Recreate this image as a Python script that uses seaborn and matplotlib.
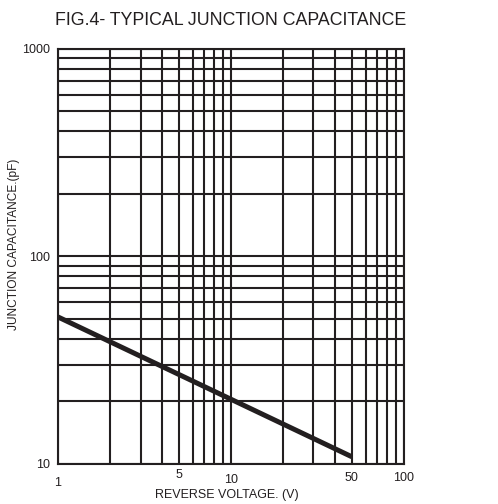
import matplotlib
matplotlib.use("Agg")
import matplotlib.pyplot as plt
import matplotlib.transforms as mtransforms
from matplotlib.ticker import LogLocator, NullFormatter
import seaborn as sns
import pandas as pd

# -----------------------------
# 0. Data
# -----------------------------
reverse_voltage = [1.0, 50.0]
junction_cap = [51.0, 10.8]

x_tick_values = [1, 5, 10, 50, 100]
x_tick_labels = ["1", "5", "10", "50", "100"]
y_tick_values = [10, 100, 1000]
y_tick_labels = ["10", "100", "1000"]

df = pd.DataFrame({"V": reverse_voltage, "C": junction_cap})

# -----------------------------
# 1. Style
# -----------------------------
sns.set_style("white")
plt.rcParams["font.family"] = ["Liberation Sans", "DejaVu Sans"]
ink = "#231f20"

fig = plt.figure(figsize=(4.98, 5.04), dpi=100)
ax = fig.add_axes([0.1165, 0.080, 0.6945, 0.8228])

ax.set_xscale("log")
ax.set_yscale("log")
ax.set_xlim(1, 100)
ax.set_ylim(10, 1000)

# grid at every major and minor decade step
ax.xaxis.set_minor_locator(LogLocator(base=10, subs=range(2, 10)))
ax.yaxis.set_minor_locator(LogLocator(base=10, subs=range(2, 10)))
ax.xaxis.set_minor_formatter(NullFormatter())
ax.yaxis.set_minor_formatter(NullFormatter())
ax.grid(True, which="both", color=ink, linewidth=1.5)
ax.set_axisbelow(True)

# -----------------------------
# 2. Curve
# -----------------------------
sns.lineplot(data=df, x="V", y="C", ax=ax, color=ink, linewidth=3.6,
             solid_capstyle="butt")

# -----------------------------
# 3. Axes text
# -----------------------------
ax.set_xticks(x_tick_values)
ax.set_xticklabels(x_tick_labels)
ax.set_yticks(y_tick_values)
ax.set_yticklabels(y_tick_labels)
ax.tick_params(axis="both", which="both", length=0, labelsize=9, colors=ink)
ax.tick_params(axis="x", pad=6)
ax.tick_params(axis="y", pad=5.8)

# the original drawing has its x labels at slightly uneven heights
offsets = {"1": -3.6, "5": 2.2, "10": -1.3, "50": 0.2, "100": 0.2}
for lbl in ax.get_xticklabels():
    dy = offsets.get(lbl.get_text(), 0)
    lbl.set_transform(lbl.get_transform() +
                      mtransforms.ScaledTranslation(0, dy / 72, fig.dpi_scale_trans))

for s in ax.spines.values():
    s.set_color(ink)
    s.set_linewidth(1.5)

ax.set_xlabel("REVERSE VOLTAGE. (V)", fontsize=9, color=ink)
ax.xaxis.label.set_va("center")
ax.xaxis.set_label_coords(0.488, -0.0755)
ax.set_ylabel("JUNCTION CAPACITANCE.(pF)", fontsize=8.6, color=ink)
ax.yaxis.label.set_va("center")
ax.yaxis.set_label_coords(-0.127, 0.53)
ax.set_title("FIG.4- TYPICAL JUNCTION CAPACITANCE", fontsize=12.8, color=ink, pad=17)

fig.savefig("out.png", dpi=100)
